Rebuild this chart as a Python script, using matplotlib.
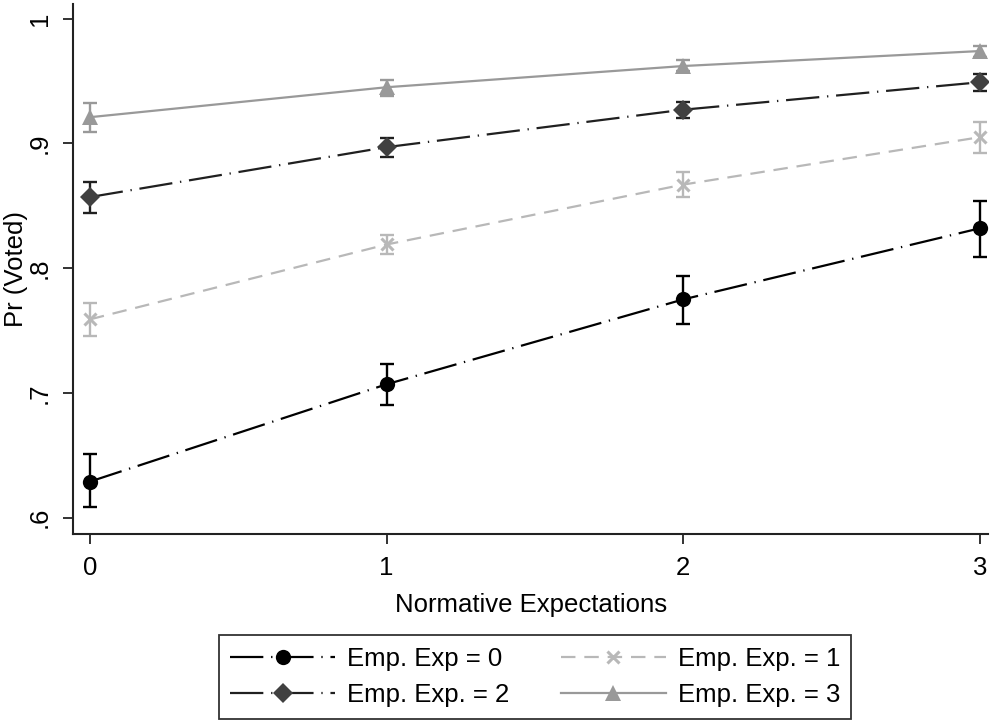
import matplotlib
matplotlib.use("Agg")
import matplotlib.pyplot as plt
from matplotlib.lines import Line2D

plt.rcParams['font.family'] = ['Liberation Sans', 'DejaVu Sans']

x = [0, 1, 2, 3]
xticklabels = ["0", "1", "2", "3"]
yticks = [0.6, 0.7, 0.8, 0.9, 1.0]
yticklabels = [".6", ".7", ".8", ".9", "1"]

emp0 = [0.629, 0.707, 0.775, 0.832]
emp0_lo = [0.609, 0.690, 0.755, 0.809]
emp0_hi = [0.651, 0.723, 0.794, 0.854]

emp1 = [0.759, 0.819, 0.867, 0.905]
emp1_lo = [0.746, 0.811, 0.857, 0.892]
emp1_hi = [0.772, 0.827, 0.877, 0.917]

emp2 = [0.857, 0.897, 0.927, 0.949]
emp2_lo = [0.844, 0.889, 0.920, 0.942]
emp2_hi = [0.869, 0.904, 0.933, 0.956]

emp3 = [0.921, 0.945, 0.962, 0.974]
emp3_lo = [0.909, 0.938, 0.958, 0.969]
emp3_hi = [0.932, 0.951, 0.967, 0.978]

labels = ["Emp. Exp = 0", "Emp. Exp. = 1", "Emp. Exp. = 2", "Emp. Exp. = 3"]

FS = 18.5
fig = plt.figure(figsize=(10, 7.24), dpi=100)
ax = fig.add_axes([0.0733, 0.2624, 0.988 - 0.0733, 0.995 - 0.2624])

dashdot = (0, (15, 3.5, 0.6, 3.5))
dashed = (0, (6.5, 4))

series = [
    dict(y=emp0, lo=emp0_lo, hi=emp0_hi, color='black', lcolor='black', ecolor='black',
         ls=dashdot, marker='o', ms=11, mew=0),
    dict(y=emp1, lo=emp1_lo, hi=emp1_hi, color='#b8b8b8', lcolor='#b8b8b8', ecolor='#b8b8b8',
         ls=dashed, marker='x', ms=9, mew=2.2),
    dict(y=emp2, lo=emp2_lo, hi=emp2_hi, color='#404040', lcolor='#202020', ecolor='#202020',
         ls=dashdot, marker='D', ms=10, mew=0),
    dict(y=emp3, lo=emp3_lo, hi=emp3_hi, color='#999999', lcolor='#999999', ecolor='#999999',
         ls='-', marker='^', ms=11.5, mew=0),
]

handles = []
for s, lab in zip(series, labels):
    yerr = [[v - l for v, l in zip(s['y'], s['lo'])], [h - v for v, h in zip(s['y'], s['hi'])]]
    ax.errorbar(x, s['y'], yerr=yerr, fmt='none', ecolor=s['ecolor'], elinewidth=1.7,
                capsize=5, capthick=1.7, zorder=2)
    ax.plot(x, s['y'], color=s['lcolor'], linestyle=s['ls'], linewidth=1.6, zorder=3)
    mk = dict(marker=s['marker'], markersize=s['ms'], markerfacecolor=s['color'],
              markeredgecolor=s['color'], markeredgewidth=s['mew'])
    ax.plot(x, s['y'], linestyle='none', zorder=4, **mk)
    handles.append(Line2D([], [], color=s['lcolor'], linestyle=s['ls'], linewidth=1.6, **mk))

ax.set_xlim(-0.056, 3.027)
ax.set_ylim(0.587, 1.012)
ax.set_xticks(x)
ax.set_xticklabels(xticklabels, fontsize=FS)
ax.set_yticks(yticks)
ax.set_yticklabels(yticklabels, fontsize=FS, rotation=90, va='center')
ax.spines['top'].set_visible(False)
ax.spines['right'].set_visible(False)
for sp in ['left', 'bottom']:
    ax.spines[sp].set_linewidth(1.5)
    ax.spines[sp].set_color('#222222')
ax.tick_params(axis='both', length=7.5, width=1.3, color='#222222', pad=8)
ax.set_xlabel("Normative Expectations", fontsize=FS, labelpad=10)
ax.set_ylabel("Pr (Voted)", fontsize=FS, va='center')
ax.yaxis.set_label_coords(-0.0625, 0.5)

# matplotlib fills legend column by column: order so rows read (0, 1) / (2, 3)
order = [0, 2, 1, 3]
leg = fig.legend(handles=[handles[i] for i in order],
                 labels=[labels[i] for i in order],
                 ncol=2, loc='center', bbox_to_anchor=(0.535, 0.0055 + 0.0595),
                 fontsize=FS, frameon=True, fancybox=False,
                 handlelength=4.1, handletextpad=0.45, columnspacing=2.0,
                 labelspacing=0.5, borderpad=0.45, borderaxespad=0)
leg.get_frame().set_edgecolor('black')
leg.get_frame().set_linewidth(1.3)

fig.savefig("out.png", dpi=100)
